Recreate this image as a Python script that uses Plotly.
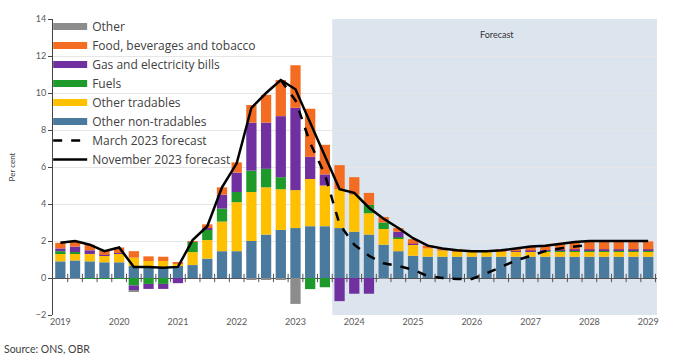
import plotly.graph_objects as go

years = list(range(2019, 2030))
quarters = [f"{y} Q{q}" for y in range(2019, 2029) for q in range(1, 5)] + ["2029 Q1"]
tick_labels = [str(y) for y in years]

non_tradables = [0.9, 0.95, 0.9, 0.85, 0.85, 0.65, 0.57, 0.57, 0.65, 0.7, 1.05, 1.45, 1.45, 2.0, 2.35, 2.6,
                 2.7, 2.8, 2.8, 2.7, 2.5, 2.35, 1.8, 1.45, 1.2, 1.15, 1.15, 1.15, 1.15, 1.15, 1.15, 1.15,
                 1.15, 1.15, 1.15, 1.15, 1.15, 1.15, 1.15, 1.15, 1.15]
other_tradables = [0.45, 0.4, 0.4, 0.35, 0.45, 0.45, 0.35, 0.35, 0.15, 0.7, 1.0, 1.6, 2.65, 2.65, 2.55, 2.2,
                   2.05, 2.55, 2.2, 2.1, 2.0, 1.15, 0.85, 0.7, 0.6, 0.45, 0.33, 0.3, 0.28, 0.28, 0.28, 0.28,
                   0.28, 0.28, 0.28, 0.28, 0.28, 0.28, 0.28, 0.28, 0.28]
fuels = [0.1, 0.05, -0.05, -0.05, -0.05, -0.4, -0.32, -0.32, 0.0, 0.55, 0.55, 0.7, 0.55, 1.15, 1.0, 0.65,
         0.0, -0.6, -0.5, 0.0, 0.0, 0.45, 0.35, 0.05, 0.0, 0.0, 0.0, 0.0, 0.0, 0.0, 0.0, 0.0,
         0.02, 0.03, 0.04, 0.05, 0.05, 0.05, 0.05, 0.05, 0.05]
gas_electricity = [0.15, 0.3, 0.2, 0.05, 0.05, -0.27, -0.27, -0.27, -0.28, 0.0, 0.1, 0.75, 1.05, 2.6, 2.5, 3.3,
                   4.45, 1.2, 0.6, -1.25, -0.85, -0.85, 0.0, 0.3, 0.05, 0.0, 0.0, 0.0, 0.0, 0.0, 0.0, 0.02,
                   0.04, 0.05, 0.06, 0.07, 0.07, 0.07, 0.07, 0.07, 0.07]
food = [0.3, 0.3, 0.3, 0.25, 0.3, 0.35, 0.25, 0.23, 0.05, 0.05, 0.2, 0.4, 0.55, 0.95, 1.5, 1.95,
        2.3, 2.6, 1.6, 1.3, 0.95, 0.65, 0.3, 0.2, 0.25, 0.15, 0.12, 0.1, 0.08, 0.08, 0.1, 0.15,
        0.2, 0.25, 0.3, 0.38, 0.43, 0.43, 0.43, 0.43, 0.43]
other = [0.0, -0.05, 0.0, 0.0, 0.0, -0.05, 0.0, 0.0, 0.0, 0.0, 0.0, 0.0, 0.0, -0.1, -0.1, -0.1,
         -1.4, 0.0, 0.0, 0.0, 0.0, 0.0, -0.05, 0.0, 0.0, 0.0, 0.0, 0.0, 0.0, 0.0, 0.0, 0.0,
         0.0, 0.0, 0.0, 0.0, 0.0, 0.0, 0.0, 0.0, 0.0]

nov_2023 = [1.9, 2.0, 1.8, 1.45, 1.65, 0.6, 0.6, 0.55, 0.6, 2.05, 2.8, 4.9, 6.2, 9.2, 10.0, 10.7,
            10.2, 8.4, 6.7, 4.8, 4.6, 3.8, 3.2, 2.7, 2.15, 1.75, 1.6, 1.5, 1.45, 1.45, 1.5, 1.6,
            1.7, 1.75, 1.85, 1.95, 2.0, 2.0, 2.0, 2.0, 2.0]
mar_2023_start = 15
mar_2023 = [10.7, 9.6, 7.3, 5.6, 2.9, 1.8, 1.2, 0.8, 0.65, 0.45, 0.1, 0.0, -0.05, -0.05, 0.25, 0.6,
            0.95, 1.2, 1.45, 1.6, 1.7, 1.8]
forecast_start = 19  # first forecast quarter index (2023 Q4)

x = list(range(len(quarters)))
x_mar = x[mar_2023_start:mar_2023_start + len(mar_2023)]

components = [
    ("Other non-tradables", non_tradables, "#4A7A9E"),
    ("Other tradables", other_tradables, "#FFC000"),
    ("Fuels", fuels, "#1E9A2A"),
    ("Gas and electricity bills", gas_electricity, "#7030A0"),
    ("Food, beverages and tobacco", food, "#F36C21"),
    ("Other", other, "#8C8C8C"),
]

fig = go.Figure()
for name, vals, col in components:
    fig.add_trace(go.Bar(x=x, y=vals, name=name, marker_color=col, marker_line_width=0,
                         width=0.7, showlegend=False, customdata=quarters))

fig.add_trace(go.Scatter(x=x_mar, y=mar_2023, mode="lines", line=dict(color="black", width=2.5, dash="dash"),
                         showlegend=False))
fig.add_trace(go.Scatter(x=x, y=nov_2023, mode="lines", line=dict(color="black", width=2.5),
                         showlegend=False))
# zero-line tick marks at quarter boundaries
fig.add_trace(go.Scatter(x=[i + 0.5 for i in x], y=[0] * len(x), mode="markers",
                         marker=dict(symbol="line-ns", size=6, line=dict(width=1, color="#555555")),
                         showlegend=False, hoverinfo="skip"))

# legend entries (wide swatches)
for name, vals, col in reversed(components):
    fig.add_trace(go.Scatter(x=[None], y=[None], mode="lines", name=name,
                             line=dict(color=col, width=7)))
fig.add_trace(go.Scatter(x=[None], y=[None], mode="lines", name="March 2023 forecast",
                         line=dict(color="black", width=2.5, dash="dash")))
fig.add_trace(go.Scatter(x=[None], y=[None], mode="lines", name="November 2023 forecast",
                         line=dict(color="black", width=2.5)))

fig.add_shape(type="rect", xref="x", yref="paper", x0=forecast_start - 0.5, x1=40.6, y0=0, y1=1,
              fillcolor="#DCE5EE", line_width=0, layer="below")

fig.add_annotation(x=0.735, y=0.946, xref="paper", yref="paper", text="Forecast", showarrow=False,
                   xanchor="center", yanchor="middle", font=dict(size=9, color="#333333"))
fig.add_annotation(x=-0.084, y=-0.114, xref="paper", yref="paper", text="Source: ONS, OBR",
                   showarrow=False, xanchor="left", yanchor="middle", font=dict(size=10.5, color="#404040"))

fig.update_layout(
    width=673, height=356,
    margin=dict(l=53, r=16, t=17, b=41),
    barmode="relative",
    bargap=0.3,
    plot_bgcolor="white",
    paper_bgcolor="white",
    font=dict(family="Lato", color="#404040"),
    legend=dict(x=-0.008, y=1.024, xanchor="left", yanchor="top", bgcolor="rgba(0,0,0,0)",
                itemwidth=34,
                font=dict(family="Open Sans", size=12, color="#404040"), tracegroupgap=0),
)
fig.update_xaxes(range=[-0.5, 40.6], tickvals=[x[quarters.index(f"{y} Q1")] for y in years],
                 ticktext=tick_labels, showgrid=False, zeroline=False, showline=False, ticks="",
                 tickfont=dict(size=9, color="#595959"))
fig.update_yaxes(range=[-2, 14], dtick=2, showgrid=True, gridcolor="#E6E6E6", gridwidth=1,
                 zeroline=True, zerolinecolor="#555555", zerolinewidth=1,
                 showline=True, linecolor="#444444", linewidth=1, ticks="outside", ticklen=4,
                 tickcolor="#444444", tickfont=dict(size=9, color="#595959"),
                 title=dict(text="Per cent", font=dict(size=8, color="#404040"), standoff=18))

fig.write_html("out.html")
